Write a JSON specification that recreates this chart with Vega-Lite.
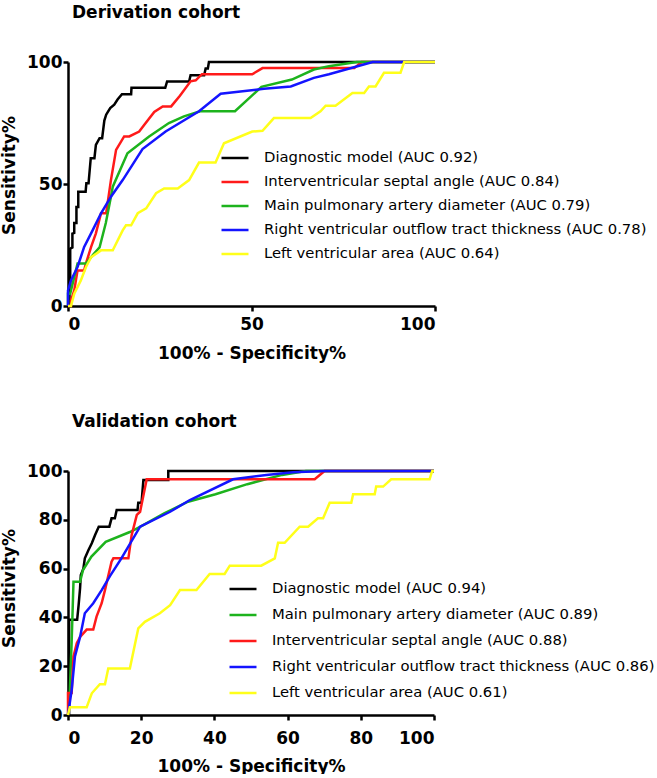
{
  "$schema": "https://vega.github.io/schema/vega-lite/v6.json",
  "padding": {"left": 0, "top": 4, "right": 0, "bottom": 0},
  "spacing": 52,
  "config": {
    "view": {"stroke": null},
    "font": "DejaVu Sans",
    "axis": {
      "grid": false,
      "domainColor": "black",
      "domainWidth": 2.5,
      "tickColor": "black",
      "tickWidth": 2.5,
      "tickSize": 5,
      "labelFont": "DejaVu Sans",
      "labelFontSize": 17,
      "labelFontWeight": "bold",
      "labelColor": "black",
      "titleFont": "DejaVu Sans",
      "titleFontSize": 17,
      "titleFontWeight": "bold",
      "titleColor": "black"
    },
    "title": {"font": "DejaVu Sans", "fontSize": 17, "fontWeight": "bold", "color": "black", "anchor": "start", "frame": "group"},
    "legend": {
      "orient": "none",
      "title": null,
      "symbolType": "stroke",
      "symbolSize": 729,
      "symbolStrokeWidth": 3,
      "labelFont": "DejaVu Sans",
      "labelFontSize": 14.8,
      "labelColor": "black",
      "labelLimit": 0,
      "labelOffset": 14,
      "padding": 0,
      "direction": "vertical"
    },
    "line": {"strokeWidth": 2.5}
  },
  "resolve": {"scale": {"color": "independent"}, "legend": {"color": "independent"}},
  "datasets": {
    "deriv": [
      {"series": "Diagnostic model (AUC 0.92)", "i": 1, "fx": 0, "sy": 0},
      {"series": "Diagnostic model (AUC 0.92)", "i": 2, "fx": 0.4, "sy": 0},
      {"series": "Diagnostic model (AUC 0.92)", "i": 3, "fx": 0.4, "sy": 9},
      {"series": "Diagnostic model (AUC 0.92)", "i": 4, "fx": 0.6, "sy": 9},
      {"series": "Diagnostic model (AUC 0.92)", "i": 5, "fx": 0.6, "sy": 23.5},
      {"series": "Diagnostic model (AUC 0.92)", "i": 6, "fx": 1.2, "sy": 24},
      {"series": "Diagnostic model (AUC 0.92)", "i": 7, "fx": 1.2, "sy": 29.7},
      {"series": "Diagnostic model (AUC 0.92)", "i": 8, "fx": 1.7, "sy": 30},
      {"series": "Diagnostic model (AUC 0.92)", "i": 9, "fx": 1.7, "sy": 34},
      {"series": "Diagnostic model (AUC 0.92)", "i": 10, "fx": 2.3, "sy": 34},
      {"series": "Diagnostic model (AUC 0.92)", "i": 11, "fx": 2.3, "sy": 40.6},
      {"series": "Diagnostic model (AUC 0.92)", "i": 12, "fx": 2.8, "sy": 40.6},
      {"series": "Diagnostic model (AUC 0.92)", "i": 13, "fx": 2.8, "sy": 46.8},
      {"series": "Diagnostic model (AUC 0.92)", "i": 14, "fx": 4.8, "sy": 46.8},
      {"series": "Diagnostic model (AUC 0.92)", "i": 15, "fx": 5.0, "sy": 50.3},
      {"series": "Diagnostic model (AUC 0.92)", "i": 16, "fx": 5.6, "sy": 50.3},
      {"series": "Diagnostic model (AUC 0.92)", "i": 17, "fx": 6.2, "sy": 60.6},
      {"series": "Diagnostic model (AUC 0.92)", "i": 18, "fx": 7.2, "sy": 60.6},
      {"series": "Diagnostic model (AUC 0.92)", "i": 19, "fx": 7.6, "sy": 66},
      {"series": "Diagnostic model (AUC 0.92)", "i": 20, "fx": 8.6, "sy": 68.8},
      {"series": "Diagnostic model (AUC 0.92)", "i": 21, "fx": 9.3, "sy": 68.8},
      {"series": "Diagnostic model (AUC 0.92)", "i": 22, "fx": 9.9, "sy": 76},
      {"series": "Diagnostic model (AUC 0.92)", "i": 23, "fx": 10.4, "sy": 78.4},
      {"series": "Diagnostic model (AUC 0.92)", "i": 24, "fx": 11.5, "sy": 81.1},
      {"series": "Diagnostic model (AUC 0.92)", "i": 25, "fx": 12.6, "sy": 82.5},
      {"series": "Diagnostic model (AUC 0.92)", "i": 26, "fx": 13.5, "sy": 84.6},
      {"series": "Diagnostic model (AUC 0.92)", "i": 27, "fx": 14.7, "sy": 86.8},
      {"series": "Diagnostic model (AUC 0.92)", "i": 28, "fx": 17.2, "sy": 86.8},
      {"series": "Diagnostic model (AUC 0.92)", "i": 29, "fx": 17.3, "sy": 89.4},
      {"series": "Diagnostic model (AUC 0.92)", "i": 30, "fx": 26.5, "sy": 89.4},
      {"series": "Diagnostic model (AUC 0.92)", "i": 31, "fx": 27, "sy": 92},
      {"series": "Diagnostic model (AUC 0.92)", "i": 32, "fx": 33, "sy": 92},
      {"series": "Diagnostic model (AUC 0.92)", "i": 33, "fx": 33.4, "sy": 94.6},
      {"series": "Diagnostic model (AUC 0.92)", "i": 34, "fx": 37.1, "sy": 94.6},
      {"series": "Diagnostic model (AUC 0.92)", "i": 35, "fx": 37.5, "sy": 97.3},
      {"series": "Diagnostic model (AUC 0.92)", "i": 36, "fx": 38.1, "sy": 97.3},
      {"series": "Diagnostic model (AUC 0.92)", "i": 37, "fx": 38.4, "sy": 100},
      {"series": "Diagnostic model (AUC 0.92)", "i": 38, "fx": 100, "sy": 100},

      {"series": "Interventricular septal angle (AUC 0.84)", "i": 1, "fx": 0, "sy": 0},
      {"series": "Interventricular septal angle (AUC 0.84)", "i": 2, "fx": 0.8, "sy": 0},
      {"series": "Interventricular septal angle (AUC 0.84)", "i": 3, "fx": 0.8, "sy": 2.3},
      {"series": "Interventricular septal angle (AUC 0.84)", "i": 4, "fx": 1.7, "sy": 6.4},
      {"series": "Interventricular septal angle (AUC 0.84)", "i": 5, "fx": 2.6, "sy": 14.6},
      {"series": "Interventricular septal angle (AUC 0.84)", "i": 6, "fx": 4.4, "sy": 14.6},
      {"series": "Interventricular septal angle (AUC 0.84)", "i": 7, "fx": 4.9, "sy": 17.5},
      {"series": "Interventricular septal angle (AUC 0.84)", "i": 8, "fx": 6.3, "sy": 24.2},
      {"series": "Interventricular septal angle (AUC 0.84)", "i": 9, "fx": 7.6, "sy": 29.8},
      {"series": "Interventricular septal angle (AUC 0.84)", "i": 10, "fx": 9, "sy": 38},
      {"series": "Interventricular septal angle (AUC 0.84)", "i": 11, "fx": 10.4, "sy": 38},
      {"series": "Interventricular septal angle (AUC 0.84)", "i": 12, "fx": 11.7, "sy": 51.6},
      {"series": "Interventricular septal angle (AUC 0.84)", "i": 13, "fx": 13.1, "sy": 64},
      {"series": "Interventricular septal angle (AUC 0.84)", "i": 14, "fx": 15.3, "sy": 69.5},
      {"series": "Interventricular septal angle (AUC 0.84)", "i": 15, "fx": 16.7, "sy": 69.5},
      {"series": "Interventricular septal angle (AUC 0.84)", "i": 16, "fx": 19.4, "sy": 71.5},
      {"series": "Interventricular septal angle (AUC 0.84)", "i": 17, "fx": 20.8, "sy": 74.3},
      {"series": "Interventricular septal angle (AUC 0.84)", "i": 18, "fx": 23.5, "sy": 79.5},
      {"series": "Interventricular septal angle (AUC 0.84)", "i": 19, "fx": 25.8, "sy": 81.8},
      {"series": "Interventricular septal angle (AUC 0.84)", "i": 20, "fx": 28.1, "sy": 81.8},
      {"series": "Interventricular septal angle (AUC 0.84)", "i": 21, "fx": 30.5, "sy": 86.2},
      {"series": "Interventricular septal angle (AUC 0.84)", "i": 22, "fx": 33.4, "sy": 92.1},
      {"series": "Interventricular septal angle (AUC 0.84)", "i": 23, "fx": 34.8, "sy": 92.5},
      {"series": "Interventricular septal angle (AUC 0.84)", "i": 24, "fx": 36.5, "sy": 95},
      {"series": "Interventricular septal angle (AUC 0.84)", "i": 25, "fx": 50.2, "sy": 95},
      {"series": "Interventricular septal angle (AUC 0.84)", "i": 26, "fx": 53, "sy": 97.5},
      {"series": "Interventricular septal angle (AUC 0.84)", "i": 27, "fx": 78, "sy": 97.5},
      {"series": "Interventricular septal angle (AUC 0.84)", "i": 28, "fx": 80, "sy": 100},
      {"series": "Interventricular septal angle (AUC 0.84)", "i": 29, "fx": 100, "sy": 100},

      {"series": "Main pulmonary artery diameter (AUC 0.79)", "i": 1, "fx": 0, "sy": 0},
      {"series": "Main pulmonary artery diameter (AUC 0.79)", "i": 2, "fx": 0, "sy": 5},
      {"series": "Main pulmonary artery diameter (AUC 0.79)", "i": 3, "fx": 0.6, "sy": 5},
      {"series": "Main pulmonary artery diameter (AUC 0.79)", "i": 4, "fx": 2.6, "sy": 17.4},
      {"series": "Main pulmonary artery diameter (AUC 0.79)", "i": 5, "fx": 4.9, "sy": 17.4},
      {"series": "Main pulmonary artery diameter (AUC 0.79)", "i": 6, "fx": 6.7, "sy": 20.8},
      {"series": "Main pulmonary artery diameter (AUC 0.79)", "i": 7, "fx": 8.6, "sy": 24},
      {"series": "Main pulmonary artery diameter (AUC 0.79)", "i": 8, "fx": 10.3, "sy": 34},
      {"series": "Main pulmonary artery diameter (AUC 0.79)", "i": 9, "fx": 11.7, "sy": 44.8},
      {"series": "Main pulmonary artery diameter (AUC 0.79)", "i": 10, "fx": 12.2, "sy": 48.9},
      {"series": "Main pulmonary artery diameter (AUC 0.79)", "i": 11, "fx": 16.2, "sy": 62.6},
      {"series": "Main pulmonary artery diameter (AUC 0.79)", "i": 12, "fx": 22.1, "sy": 69.5},
      {"series": "Main pulmonary artery diameter (AUC 0.79)", "i": 13, "fx": 27.5, "sy": 75},
      {"series": "Main pulmonary artery diameter (AUC 0.79)", "i": 14, "fx": 31.6, "sy": 77.7},
      {"series": "Main pulmonary artery diameter (AUC 0.79)", "i": 15, "fx": 36, "sy": 79.8},
      {"series": "Main pulmonary artery diameter (AUC 0.79)", "i": 16, "fx": 45.5, "sy": 79.8},
      {"series": "Main pulmonary artery diameter (AUC 0.79)", "i": 17, "fx": 52.7, "sy": 89.8},
      {"series": "Main pulmonary artery diameter (AUC 0.79)", "i": 18, "fx": 61, "sy": 92.8},
      {"series": "Main pulmonary artery diameter (AUC 0.79)", "i": 19, "fx": 67, "sy": 96.9},
      {"series": "Main pulmonary artery diameter (AUC 0.79)", "i": 20, "fx": 71.1, "sy": 98.3},
      {"series": "Main pulmonary artery diameter (AUC 0.79)", "i": 21, "fx": 78.7, "sy": 100},
      {"series": "Main pulmonary artery diameter (AUC 0.79)", "i": 22, "fx": 100, "sy": 100},

      {"series": "Right ventricular outflow tract thickness  (AUC 0.78)", "i": 1, "fx": 0, "sy": 0},
      {"series": "Right ventricular outflow tract thickness  (AUC 0.78)", "i": 2, "fx": 0, "sy": 6.4},
      {"series": "Right ventricular outflow tract thickness  (AUC 0.78)", "i": 3, "fx": 0.8, "sy": 10.5},
      {"series": "Right ventricular outflow tract thickness  (AUC 0.78)", "i": 4, "fx": 2.6, "sy": 16},
      {"series": "Right ventricular outflow tract thickness  (AUC 0.78)", "i": 5, "fx": 4.4, "sy": 24.2},
      {"series": "Right ventricular outflow tract thickness  (AUC 0.78)", "i": 6, "fx": 6.7, "sy": 31},
      {"series": "Right ventricular outflow tract thickness  (AUC 0.78)", "i": 7, "fx": 9, "sy": 38},
      {"series": "Right ventricular outflow tract thickness  (AUC 0.78)", "i": 8, "fx": 11.7, "sy": 44.8},
      {"series": "Right ventricular outflow tract thickness  (AUC 0.78)", "i": 9, "fx": 14.9, "sy": 51.6},
      {"series": "Right ventricular outflow tract thickness  (AUC 0.78)", "i": 10, "fx": 20.3, "sy": 64.3},
      {"series": "Right ventricular outflow tract thickness  (AUC 0.78)", "i": 11, "fx": 26.6, "sy": 71.5},
      {"series": "Right ventricular outflow tract thickness  (AUC 0.78)", "i": 12, "fx": 35.7, "sy": 79.8},
      {"series": "Right ventricular outflow tract thickness  (AUC 0.78)", "i": 13, "fx": 41.6, "sy": 87},
      {"series": "Right ventricular outflow tract thickness  (AUC 0.78)", "i": 14, "fx": 53.4, "sy": 89},
      {"series": "Right ventricular outflow tract thickness  (AUC 0.78)", "i": 15, "fx": 60.7, "sy": 90},
      {"series": "Right ventricular outflow tract thickness  (AUC 0.78)", "i": 16, "fx": 67, "sy": 93.5},
      {"series": "Right ventricular outflow tract thickness  (AUC 0.78)", "i": 17, "fx": 71.1, "sy": 95},
      {"series": "Right ventricular outflow tract thickness  (AUC 0.78)", "i": 18, "fx": 83, "sy": 100},
      {"series": "Right ventricular outflow tract thickness  (AUC 0.78)", "i": 19, "fx": 100, "sy": 100},

      {"series": "Left ventricular area (AUC 0.64)", "i": 1, "fx": 0, "sy": 0},
      {"series": "Left ventricular area (AUC 0.64)", "i": 2, "fx": 0.8, "sy": 0},
      {"series": "Left ventricular area (AUC 0.64)", "i": 3, "fx": 1.7, "sy": 5},
      {"series": "Left ventricular area (AUC 0.64)", "i": 4, "fx": 3.5, "sy": 10.5},
      {"series": "Left ventricular area (AUC 0.64)", "i": 5, "fx": 4.9, "sy": 16},
      {"series": "Left ventricular area (AUC 0.64)", "i": 6, "fx": 6.3, "sy": 20},
      {"series": "Left ventricular area (AUC 0.64)", "i": 7, "fx": 9, "sy": 22.8},
      {"series": "Left ventricular area (AUC 0.64)", "i": 8, "fx": 12.2, "sy": 22.8},
      {"series": "Left ventricular area (AUC 0.64)", "i": 9, "fx": 14.9, "sy": 31},
      {"series": "Left ventricular area (AUC 0.64)", "i": 10, "fx": 15.8, "sy": 33.1},
      {"series": "Left ventricular area (AUC 0.64)", "i": 11, "fx": 17.2, "sy": 33.1},
      {"series": "Left ventricular area (AUC 0.64)", "i": 12, "fx": 19, "sy": 38},
      {"series": "Left ventricular area (AUC 0.64)", "i": 13, "fx": 21.3, "sy": 40},
      {"series": "Left ventricular area (AUC 0.64)", "i": 14, "fx": 24, "sy": 46.2},
      {"series": "Left ventricular area (AUC 0.64)", "i": 15, "fx": 26.2, "sy": 48.2},
      {"series": "Left ventricular area (AUC 0.64)", "i": 16, "fx": 29.9, "sy": 48.2},
      {"series": "Left ventricular area (AUC 0.64)", "i": 17, "fx": 33, "sy": 51.6},
      {"series": "Left ventricular area (AUC 0.64)", "i": 18, "fx": 35.7, "sy": 58.8},
      {"series": "Left ventricular area (AUC 0.64)", "i": 19, "fx": 40.2, "sy": 58.8},
      {"series": "Left ventricular area (AUC 0.64)", "i": 20, "fx": 42.5, "sy": 66.7},
      {"series": "Left ventricular area (AUC 0.64)", "i": 21, "fx": 50.2, "sy": 71.5},
      {"series": "Left ventricular area (AUC 0.64)", "i": 22, "fx": 53, "sy": 71.8},
      {"series": "Left ventricular area (AUC 0.64)", "i": 23, "fx": 56.1, "sy": 77},
      {"series": "Left ventricular area (AUC 0.64)", "i": 24, "fx": 66.1, "sy": 77},
      {"series": "Left ventricular area (AUC 0.64)", "i": 25, "fx": 68.8, "sy": 79.8},
      {"series": "Left ventricular area (AUC 0.64)", "i": 26, "fx": 70.2, "sy": 82.1},
      {"series": "Left ventricular area (AUC 0.64)", "i": 27, "fx": 72.9, "sy": 82.1},
      {"series": "Left ventricular area (AUC 0.64)", "i": 28, "fx": 77.5, "sy": 87.3},
      {"series": "Left ventricular area (AUC 0.64)", "i": 29, "fx": 80.7, "sy": 87.3},
      {"series": "Left ventricular area (AUC 0.64)", "i": 30, "fx": 82, "sy": 90},
      {"series": "Left ventricular area (AUC 0.64)", "i": 31, "fx": 83.8, "sy": 90},
      {"series": "Left ventricular area (AUC 0.64)", "i": 32, "fx": 86.1, "sy": 95.6},
      {"series": "Left ventricular area (AUC 0.64)", "i": 33, "fx": 90.6, "sy": 95.6},
      {"series": "Left ventricular area (AUC 0.64)", "i": 34, "fx": 91.6, "sy": 100},
      {"series": "Left ventricular area (AUC 0.64)", "i": 35, "fx": 100, "sy": 100}
    ],
    "valid": [
      {"series": "Diagnostic model (AUC 0.94)", "i": 1, "fx": 0, "sy": 0},
      {"series": "Diagnostic model (AUC 0.94)", "i": 2, "fx": 0.3, "sy": 0},
      {"series": "Diagnostic model (AUC 0.94)", "i": 3, "fx": 0.3, "sy": 39},
      {"series": "Diagnostic model (AUC 0.94)", "i": 4, "fx": 2.5, "sy": 39},
      {"series": "Diagnostic model (AUC 0.94)", "i": 5, "fx": 2.9, "sy": 45},
      {"series": "Diagnostic model (AUC 0.94)", "i": 6, "fx": 3.3, "sy": 52},
      {"series": "Diagnostic model (AUC 0.94)", "i": 7, "fx": 3.5, "sy": 57.4},
      {"series": "Diagnostic model (AUC 0.94)", "i": 8, "fx": 4.2, "sy": 60},
      {"series": "Diagnostic model (AUC 0.94)", "i": 9, "fx": 4.6, "sy": 64.2},
      {"series": "Diagnostic model (AUC 0.94)", "i": 10, "fx": 5.6, "sy": 67.6},
      {"series": "Diagnostic model (AUC 0.94)", "i": 11, "fx": 6.5, "sy": 70.4},
      {"series": "Diagnostic model (AUC 0.94)", "i": 12, "fx": 7.4, "sy": 73.8},
      {"series": "Diagnostic model (AUC 0.94)", "i": 13, "fx": 8.4, "sy": 77.2},
      {"series": "Diagnostic model (AUC 0.94)", "i": 14, "fx": 11.3, "sy": 77.2},
      {"series": "Diagnostic model (AUC 0.94)", "i": 15, "fx": 11.9, "sy": 80.6},
      {"series": "Diagnostic model (AUC 0.94)", "i": 16, "fx": 12.8, "sy": 80.6},
      {"series": "Diagnostic model (AUC 0.94)", "i": 17, "fx": 13.3, "sy": 84},
      {"series": "Diagnostic model (AUC 0.94)", "i": 18, "fx": 19, "sy": 84},
      {"series": "Diagnostic model (AUC 0.94)", "i": 19, "fx": 19.2, "sy": 87},
      {"series": "Diagnostic model (AUC 0.94)", "i": 20, "fx": 20.1, "sy": 87},
      {"series": "Diagnostic model (AUC 0.94)", "i": 21, "fx": 20.6, "sy": 96.3},
      {"series": "Diagnostic model (AUC 0.94)", "i": 22, "fx": 27.4, "sy": 96.3},
      {"series": "Diagnostic model (AUC 0.94)", "i": 23, "fx": 27.4, "sy": 100},
      {"series": "Diagnostic model (AUC 0.94)", "i": 24, "fx": 100, "sy": 100},

      {"series": "Main pulmonary artery diameter (AUC 0.89)", "i": 1, "fx": 0, "sy": 0},
      {"series": "Main pulmonary artery diameter (AUC 0.89)", "i": 2, "fx": 0.5, "sy": 10},
      {"series": "Main pulmonary artery diameter (AUC 0.89)", "i": 3, "fx": 1, "sy": 30},
      {"series": "Main pulmonary artery diameter (AUC 0.89)", "i": 4, "fx": 1.5, "sy": 54.6},
      {"series": "Main pulmonary artery diameter (AUC 0.89)", "i": 5, "fx": 3.3, "sy": 54.6},
      {"series": "Main pulmonary artery diameter (AUC 0.89)", "i": 6, "fx": 4.1, "sy": 59.4},
      {"series": "Main pulmonary artery diameter (AUC 0.89)", "i": 7, "fx": 6.4, "sy": 64.9},
      {"series": "Main pulmonary artery diameter (AUC 0.89)", "i": 8, "fx": 10.3, "sy": 71},
      {"series": "Main pulmonary artery diameter (AUC 0.89)", "i": 9, "fx": 16.9, "sy": 75},
      {"series": "Main pulmonary artery diameter (AUC 0.89)", "i": 10, "fx": 19.8, "sy": 77.2},
      {"series": "Main pulmonary artery diameter (AUC 0.89)", "i": 11, "fx": 26.4, "sy": 82.7},
      {"series": "Main pulmonary artery diameter (AUC 0.89)", "i": 12, "fx": 32.8, "sy": 87.4},
      {"series": "Main pulmonary artery diameter (AUC 0.89)", "i": 13, "fx": 40.3, "sy": 90.5},
      {"series": "Main pulmonary artery diameter (AUC 0.89)", "i": 14, "fx": 49, "sy": 94.6},
      {"series": "Main pulmonary artery diameter (AUC 0.89)", "i": 15, "fx": 58.5, "sy": 98.4},
      {"series": "Main pulmonary artery diameter (AUC 0.89)", "i": 16, "fx": 65, "sy": 100},
      {"series": "Main pulmonary artery diameter (AUC 0.89)", "i": 17, "fx": 100, "sy": 100},

      {"series": "Interventricular septal angle (AUC 0.88)", "i": 1, "fx": 0, "sy": 0},
      {"series": "Interventricular septal angle (AUC 0.88)", "i": 2, "fx": 0, "sy": 9},
      {"series": "Interventricular septal angle (AUC 0.88)", "i": 3, "fx": 1, "sy": 9},
      {"series": "Interventricular septal angle (AUC 0.88)", "i": 4, "fx": 1.5, "sy": 24},
      {"series": "Interventricular septal angle (AUC 0.88)", "i": 5, "fx": 2.4, "sy": 29.4},
      {"series": "Interventricular septal angle (AUC 0.88)", "i": 6, "fx": 3.3, "sy": 32},
      {"series": "Interventricular septal angle (AUC 0.88)", "i": 7, "fx": 5.1, "sy": 35},
      {"series": "Interventricular septal angle (AUC 0.88)", "i": 8, "fx": 6.9, "sy": 35},
      {"series": "Interventricular septal angle (AUC 0.88)", "i": 9, "fx": 7.8, "sy": 40.3},
      {"series": "Interventricular septal angle (AUC 0.88)", "i": 10, "fx": 9.2, "sy": 45.8},
      {"series": "Interventricular septal angle (AUC 0.88)", "i": 11, "fx": 10.1, "sy": 51.2},
      {"series": "Interventricular septal angle (AUC 0.88)", "i": 12, "fx": 11.9, "sy": 62.8},
      {"series": "Interventricular septal angle (AUC 0.88)", "i": 13, "fx": 12.4, "sy": 64.2},
      {"series": "Interventricular septal angle (AUC 0.88)", "i": 14, "fx": 16.5, "sy": 64.2},
      {"series": "Interventricular septal angle (AUC 0.88)", "i": 15, "fx": 17.4, "sy": 73.8},
      {"series": "Interventricular septal angle (AUC 0.88)", "i": 16, "fx": 18.8, "sy": 82},
      {"series": "Interventricular septal angle (AUC 0.88)", "i": 17, "fx": 19.7, "sy": 83.3},
      {"series": "Interventricular septal angle (AUC 0.88)", "i": 18, "fx": 21.5, "sy": 96.6},
      {"series": "Interventricular septal angle (AUC 0.88)", "i": 19, "fx": 67.4, "sy": 96.6},
      {"series": "Interventricular septal angle (AUC 0.88)", "i": 20, "fx": 70.1, "sy": 100},
      {"series": "Interventricular septal angle (AUC 0.88)", "i": 21, "fx": 100, "sy": 100},

      {"series": "Right ventricular outflow tract thickness  (AUC 0.86)", "i": 1, "fx": 0, "sy": 0},
      {"series": "Right ventricular outflow tract thickness  (AUC 0.86)", "i": 2, "fx": 1, "sy": 10.2},
      {"series": "Right ventricular outflow tract thickness  (AUC 0.86)", "i": 3, "fx": 1.9, "sy": 24},
      {"series": "Right ventricular outflow tract thickness  (AUC 0.86)", "i": 4, "fx": 3.3, "sy": 32},
      {"series": "Right ventricular outflow tract thickness  (AUC 0.86)", "i": 5, "fx": 4.6, "sy": 41.7},
      {"series": "Right ventricular outflow tract thickness  (AUC 0.86)", "i": 6, "fx": 6.9, "sy": 45.8},
      {"series": "Right ventricular outflow tract thickness  (AUC 0.86)", "i": 7, "fx": 9.2, "sy": 51.2},
      {"series": "Right ventricular outflow tract thickness  (AUC 0.86)", "i": 8, "fx": 11.5, "sy": 57},
      {"series": "Right ventricular outflow tract thickness  (AUC 0.86)", "i": 9, "fx": 14.5, "sy": 64},
      {"series": "Right ventricular outflow tract thickness  (AUC 0.86)", "i": 10, "fx": 19.7, "sy": 77.2},
      {"series": "Right ventricular outflow tract thickness  (AUC 0.86)", "i": 11, "fx": 27.9, "sy": 83.3},
      {"series": "Right ventricular outflow tract thickness  (AUC 0.86)", "i": 12, "fx": 33.3, "sy": 88.1},
      {"series": "Right ventricular outflow tract thickness  (AUC 0.86)", "i": 13, "fx": 45.1, "sy": 96.6},
      {"series": "Right ventricular outflow tract thickness  (AUC 0.86)", "i": 14, "fx": 54.2, "sy": 98.4},
      {"series": "Right ventricular outflow tract thickness  (AUC 0.86)", "i": 15, "fx": 61.5, "sy": 99.5},
      {"series": "Right ventricular outflow tract thickness  (AUC 0.86)", "i": 16, "fx": 70.1, "sy": 100},
      {"series": "Right ventricular outflow tract thickness  (AUC 0.86)", "i": 17, "fx": 100, "sy": 100},

      {"series": "Left ventricular area (AUC 0.61)", "i": 1, "fx": 0, "sy": 0},
      {"series": "Left ventricular area (AUC 0.61)", "i": 2, "fx": 0.5, "sy": 3.2},
      {"series": "Left ventricular area (AUC 0.61)", "i": 3, "fx": 5.1, "sy": 3.2},
      {"series": "Left ventricular area (AUC 0.61)", "i": 4, "fx": 6.5, "sy": 8.9},
      {"series": "Left ventricular area (AUC 0.61)", "i": 5, "fx": 8.7, "sy": 12.6},
      {"series": "Left ventricular area (AUC 0.61)", "i": 6, "fx": 10.1, "sy": 12.6},
      {"series": "Left ventricular area (AUC 0.61)", "i": 7, "fx": 11, "sy": 19.1},
      {"series": "Left ventricular area (AUC 0.61)", "i": 8, "fx": 16.9, "sy": 19.1},
      {"series": "Left ventricular area (AUC 0.61)", "i": 9, "fx": 19.2, "sy": 35.5},
      {"series": "Left ventricular area (AUC 0.61)", "i": 10, "fx": 21, "sy": 38.2},
      {"series": "Left ventricular area (AUC 0.61)", "i": 11, "fx": 25.1, "sy": 41.7},
      {"series": "Left ventricular area (AUC 0.61)", "i": 12, "fx": 27.9, "sy": 45},
      {"series": "Left ventricular area (AUC 0.61)", "i": 13, "fx": 30.6, "sy": 51.2},
      {"series": "Left ventricular area (AUC 0.61)", "i": 14, "fx": 35.1, "sy": 51.2},
      {"series": "Left ventricular area (AUC 0.61)", "i": 15, "fx": 38.7, "sy": 57.8},
      {"series": "Left ventricular area (AUC 0.61)", "i": 16, "fx": 42.8, "sy": 57.8},
      {"series": "Left ventricular area (AUC 0.61)", "i": 17, "fx": 44.2, "sy": 61.2},
      {"series": "Left ventricular area (AUC 0.61)", "i": 18, "fx": 52.8, "sy": 61.2},
      {"series": "Left ventricular area (AUC 0.61)", "i": 19, "fx": 56.5, "sy": 64.2},
      {"series": "Left ventricular area (AUC 0.61)", "i": 20, "fx": 57.4, "sy": 70.6},
      {"series": "Left ventricular area (AUC 0.61)", "i": 21, "fx": 59.2, "sy": 70.6},
      {"series": "Left ventricular area (AUC 0.61)", "i": 22, "fx": 63.3, "sy": 77.2},
      {"series": "Left ventricular area (AUC 0.61)", "i": 23, "fx": 65.6, "sy": 77.2},
      {"series": "Left ventricular area (AUC 0.61)", "i": 24, "fx": 68.3, "sy": 80.6},
      {"series": "Left ventricular area (AUC 0.61)", "i": 25, "fx": 69.7, "sy": 80.6},
      {"series": "Left ventricular area (AUC 0.61)", "i": 26, "fx": 71.5, "sy": 87},
      {"series": "Left ventricular area (AUC 0.61)", "i": 27, "fx": 77.4, "sy": 87},
      {"series": "Left ventricular area (AUC 0.61)", "i": 28, "fx": 77.9, "sy": 90.5},
      {"series": "Left ventricular area (AUC 0.61)", "i": 29, "fx": 83.8, "sy": 90.5},
      {"series": "Left ventricular area (AUC 0.61)", "i": 30, "fx": 84.2, "sy": 93.6},
      {"series": "Left ventricular area (AUC 0.61)", "i": 31, "fx": 86.1, "sy": 93.6},
      {"series": "Left ventricular area (AUC 0.61)", "i": 32, "fx": 88.3, "sy": 96.6},
      {"series": "Left ventricular area (AUC 0.61)", "i": 33, "fx": 98.8, "sy": 96.6},
      {"series": "Left ventricular area (AUC 0.61)", "i": 34, "fx": 99.5, "sy": 100},
      {"series": "Left ventricular area (AUC 0.61)", "i": 35, "fx": 100, "sy": 100}
    ]
  },
  "vconcat": [
    {
      "title": {"text": "Derivation cohort", "dx": 4, "offset": 31},
      "width": 367,
      "height": 244,
      "data": {"name": "deriv"},
      "mark": {"type": "line", "strokeWidth": 2.5},
      "encoding": {
        "x": {"field": "fx", "type": "quantitative", "scale": {"domain": [0, 100], "nice": false, "zero": false},
              "axis": {"values": [0, 50, 100], "title": "100% - Specificity%", "labelPadding": 5, "titlePadding": 13}},
        "y": {"field": "sy", "type": "quantitative", "scale": {"domain": [0, 100], "nice": false},
              "axis": {"values": [0, 50, 100], "title": "Sensitivity%", "labelPadding": 1, "titlePadding": 8, "titleY": 113}},
        "color": {"field": "series", "type": "nominal",
                  "scale": {"domain": ["Diagnostic model (AUC 0.92)", "Interventricular septal angle (AUC 0.84)", "Main pulmonary artery diameter (AUC 0.79)", "Right ventricular outflow tract thickness  (AUC 0.78)", "Left ventricular area (AUC 0.64)"],
                            "range": ["#000000", "#ff1a1a", "#1db31d", "#1414ff", "#ffff1a"]},
                  "legend": {"legendX": 152, "legendY": 81, "rowPadding": 2}},
        "order": {"field": "i", "type": "quantitative"}
      }
    },
    {
      "title": {"text": "Validation cohort", "dx": 4, "offset": 31},
      "width": 366,
      "height": 244,
      "data": {"name": "valid"},
      "mark": {"type": "line", "strokeWidth": 2.5},
      "encoding": {
        "x": {"field": "fx", "type": "quantitative", "scale": {"domain": [0, 100], "nice": false, "zero": false},
              "axis": {"values": [0, 20, 40, 60, 80, 100], "title": "100% - Specificity%", "labelPadding": 10, "titlePadding": 12}},
        "y": {"field": "sy", "type": "quantitative", "scale": {"domain": [0, 100], "nice": false},
              "axis": {"values": [0, 20, 40, 60, 80, 100], "title": "Sensitivity%", "labelPadding": 1, "titlePadding": 8, "titleY": 117}},
        "color": {"field": "series", "type": "nominal",
                  "scale": {"domain": ["Diagnostic model (AUC 0.94)", "Main pulmonary artery diameter (AUC 0.89)", "Interventricular septal angle (AUC 0.88)", "Right ventricular outflow tract thickness  (AUC 0.86)", "Left ventricular area (AUC 0.61)"],
                            "range": ["#000000", "#1db31d", "#ff1a1a", "#1414ff", "#ffff1a"]},
                  "legend": {"legendX": 160, "legendY": 103, "rowPadding": 4}},
        "order": {"field": "i", "type": "quantitative"}
      }
    }
  ]
}
